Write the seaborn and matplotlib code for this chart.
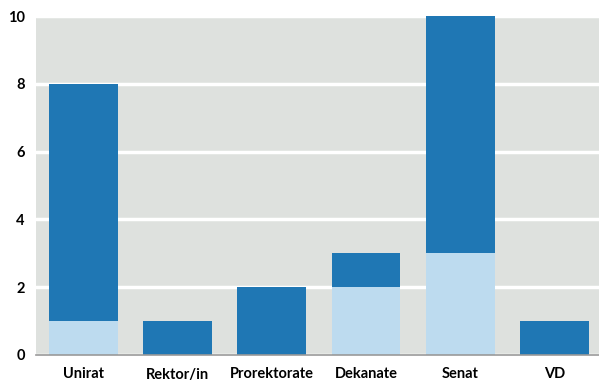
import matplotlib
matplotlib.use("Agg")
import matplotlib.pyplot as plt
import seaborn as sns
import pandas as pd

# data
categories = ["Unirat", "Rektor/in", "Prorektorate", "Dekanate", "Senat", "VD"]
light_part = [1, 0, 0, 2, 3, 0]
dark_part = [7, 1, 2, 1, 7, 1]
totals = [a + b for a, b in zip(light_part, dark_part)]
y_ticks = [0, 2, 4, 6, 8, 10]

df = pd.DataFrame({"cat": categories, "light": light_part, "total": totals})

sns.set_style("whitegrid")
plt.rcParams["font.family"] = ["Lato", "DejaVu Sans"]

fig = plt.figure(figsize=(5.99, 3.83), dpi=100)
ax = fig.add_axes([36 / 599, 28 / 383, 1 - 36 / 599, (355 - 16) / 383])
ax.set_facecolor("#dee1de")

# total (dark) drawn first, light part on top of it from zero
sns.barplot(data=df, x="cat", y="total", color="#1f77b4", saturation=1,
            width=0.73, linewidth=0, ax=ax, zorder=3)
sns.barplot(data=df, x="cat", y="light", color="#bddbef", saturation=1,
            width=0.73, linewidth=0, ax=ax, zorder=4)

ax.set_xlim(-0.5, 5.47)
ax.set_ylim(0, 10)
ax.set_yticks(y_ticks)
ax.set_xlabel("")
ax.set_ylabel("")
ax.grid(axis="x", visible=False)
ax.grid(axis="y", color="white", linewidth=2.5, zorder=1)
ax.set_axisbelow(True)
for side in ["top", "right", "left"]:
    ax.spines[side].set_visible(False)
ax.spines["bottom"].set_color("#999999")
ax.spines["bottom"].set_linewidth(1.2)
ax.spines["bottom"].set_zorder(5)
ax.tick_params(axis="both", length=0, labelsize=10.5, colors="black")
ax.tick_params(axis="x", pad=9)
ax.tick_params(axis="y", pad=8)
for lbl in ax.get_xticklabels() + ax.get_yticklabels():
    lbl.set_fontweight("bold")

fig.savefig("out.png", dpi=100)
